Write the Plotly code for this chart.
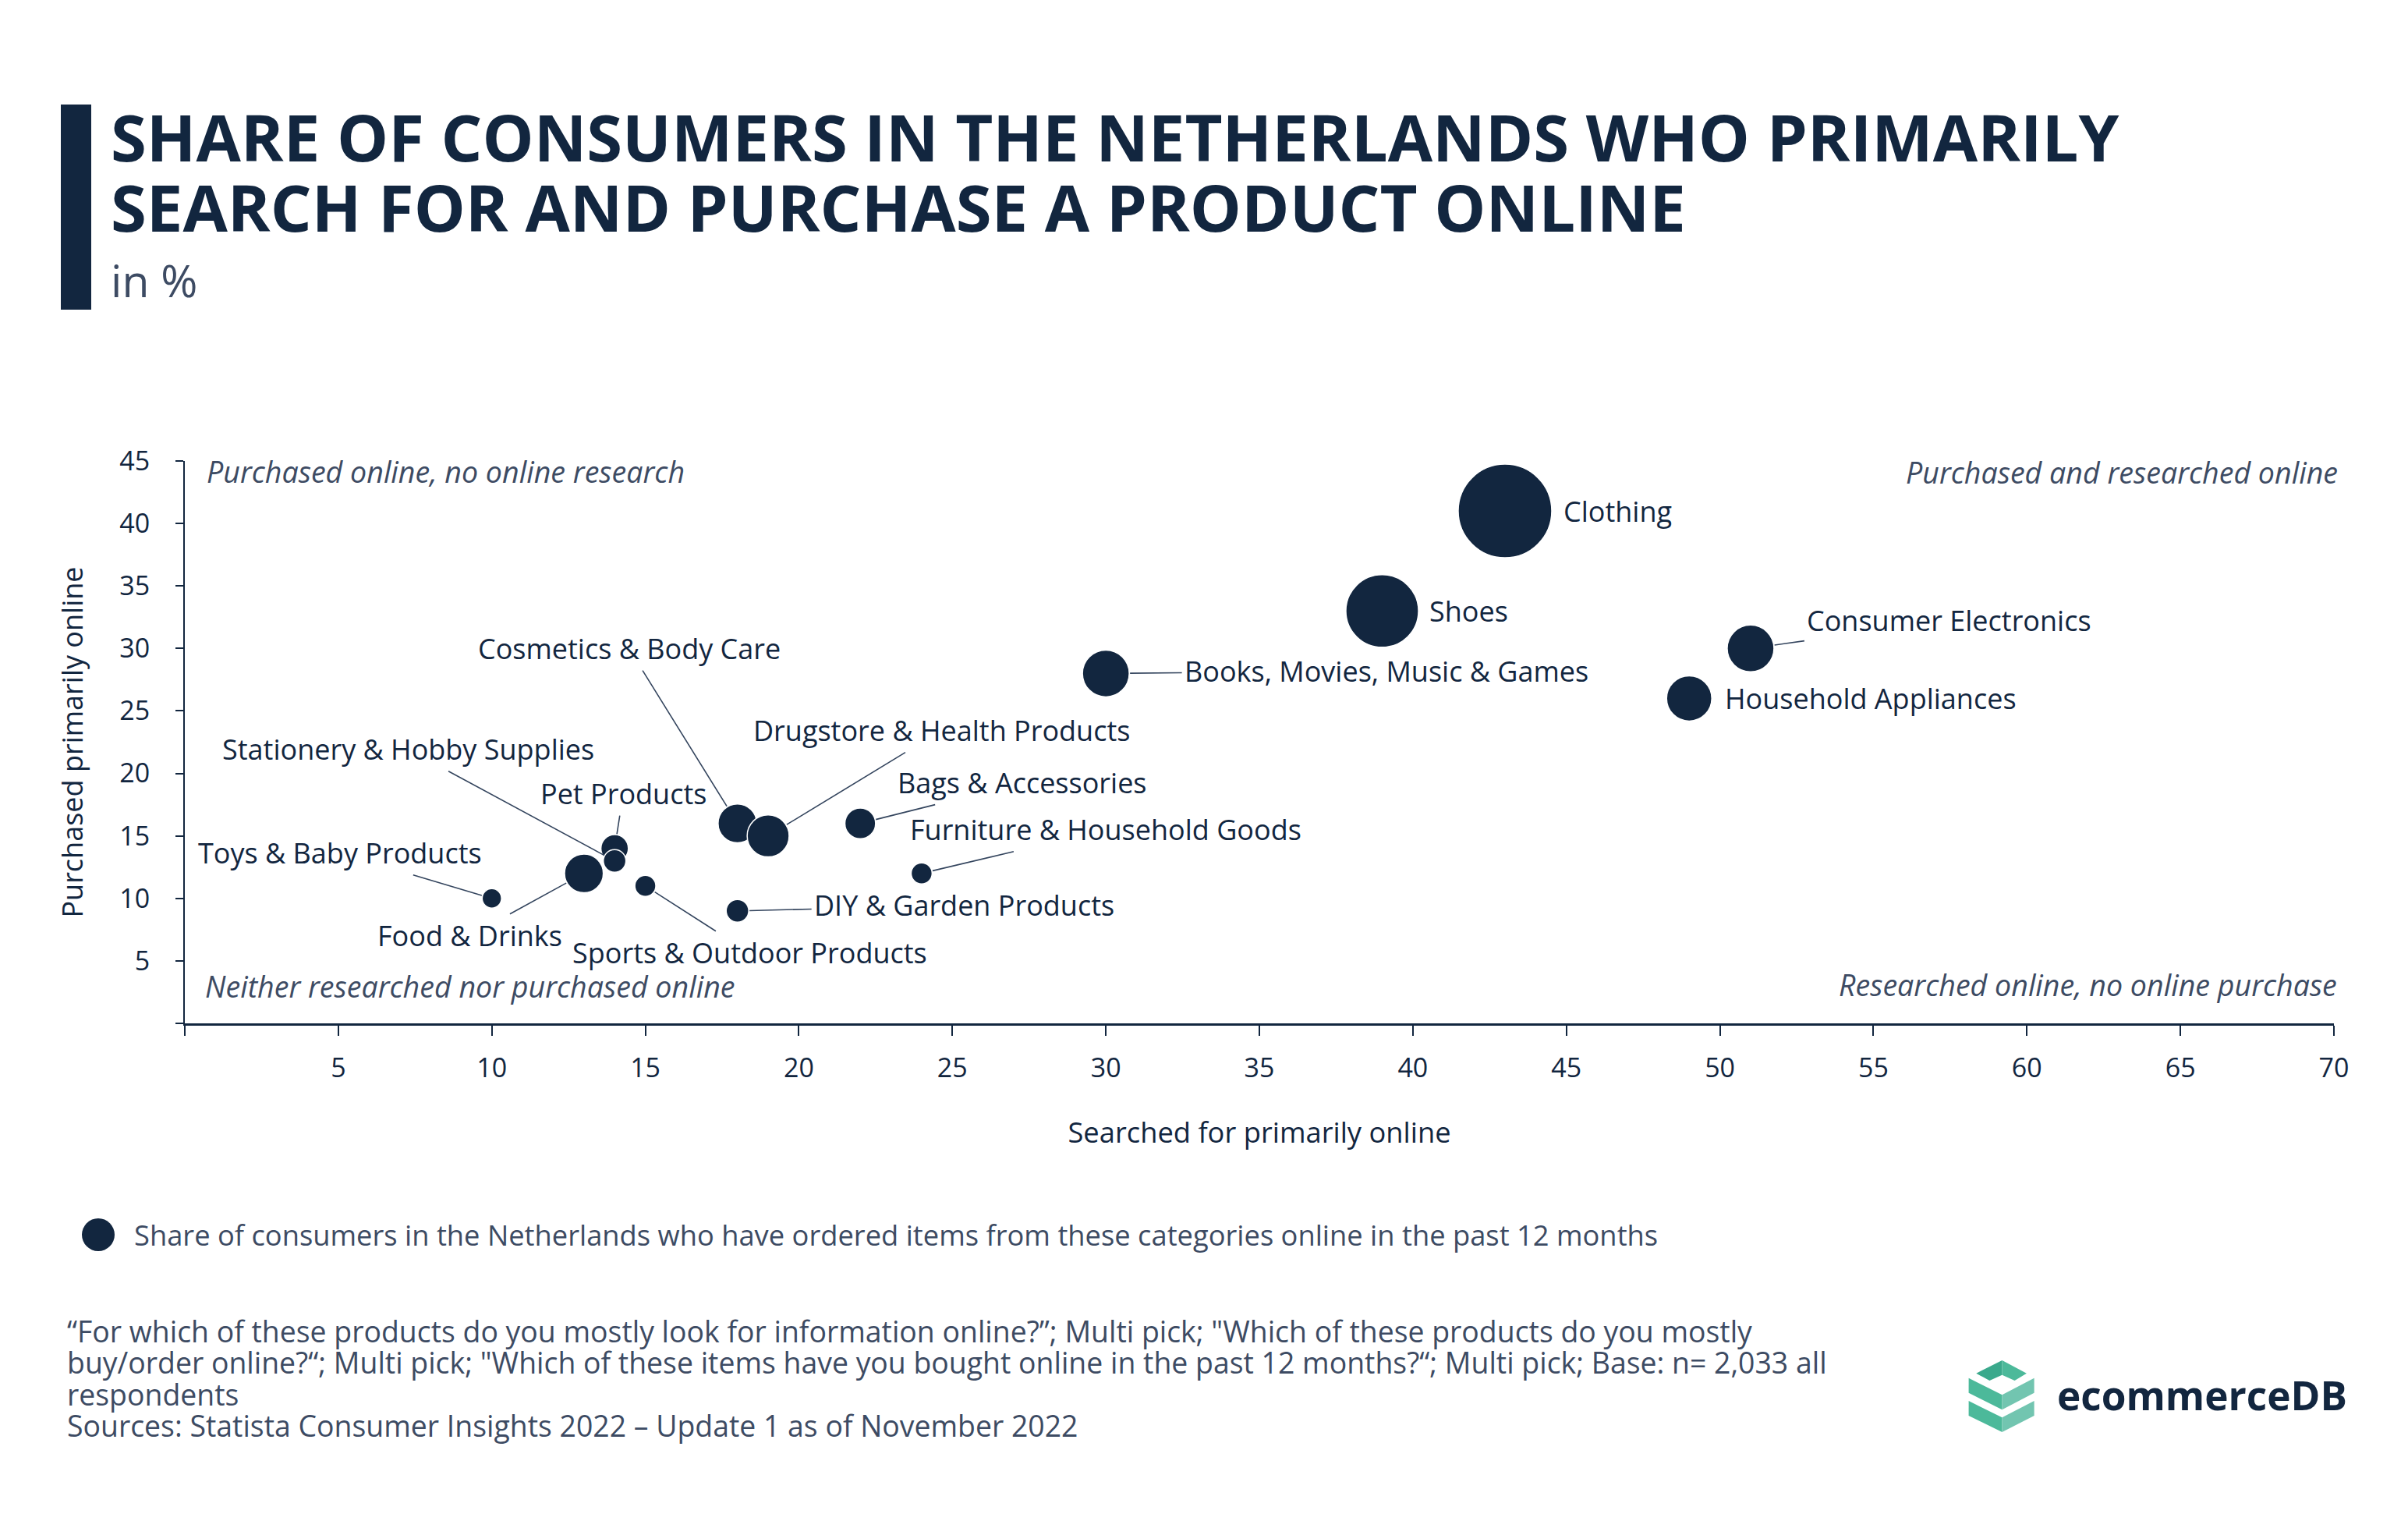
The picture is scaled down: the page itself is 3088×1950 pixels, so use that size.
import plotly.graph_objects as go

# ---------------- data ----------------
categories = [
    "Clothing", "Shoes", "Books, Movies, Music & Games", "Consumer Electronics",
    "Household Appliances", "Cosmetics & Body Care", "Drugstore & Health Products",
    "Bags & Accessories", "Furniture & Household Goods", "DIY & Garden Products",
    "Sports & Outdoor Products", "Food & Drinks", "Pet Products",
    "Stationery & Hobby Supplies", "Toys & Baby Products",
]
searched_online = [43, 39, 30, 51, 49, 18, 19, 22, 24, 18, 15, 13, 14, 14, 10]
purchased_online = [41, 33, 28, 30, 26, 16, 15, 16, 12, 9, 11, 12, 14, 13, 10]
ordered_past_12m = [58, 45, 29, 29, 28, 24, 26, 19, 13, 14, 13, 24, 17, 14, 12]

x_tickvals = [0, 5, 10, 15, 20, 25, 30, 35, 40, 45, 50, 55, 60, 65, 70]
x_ticktext = ["", "5", "10", "15", "20", "25", "30", "35", "40", "45", "50", "55", "60", "65", "70"]
y_tickvals = [0, 5, 10, 15, 20, 25, 30, 35, 40, 45]
y_ticktext = ["", "5", "10", "15", "20", "25", "30", "35", "40", "45"]

# ---------------- layout constants ----------------
W, H = 3088, 1950
ML, MR, MT, MB = 237, 95, 591, 638
PW, PH = W - ML - MR, H - MT - MB
NAVY = "#12263f"
GREY = "#3d4b63"
FONT = "Open Sans"
SIZEREF = 58 / 120.0


def fx(p):
    return (p - ML) / PW


def fy(p):
    return (H - MB - p) / PH


# label placement (pixel offsets from each bubble)
label_side = {  # labels directly right of the bubble
    "Clothing": 73,
    "Shoes": 59,
    "Household Appliances": 44,
}
label_arrow = {  # (ax, ay) offsets of the label centre, with leader line
    "Books, Movies, Music & Games": (360, -3),
    "Consumer Electronics": (255, -36),
    "Drugstore & Health Products": (222, -135),
    "Cosmetics & Body Care": (-139, -224),
    "Bags & Accessories": (208, -52),
    "Furniture & Household Goods": (236, -56),
    "DIY & Garden Products": (291, -7),
    "Sports & Outdoor Products": (134, 86),
    "Food & Drinks": (-146, 80),
    "Pet Products": (11, -70),
    "Stationery & Hobby Supplies": (-265, -143),
    "Toys & Baby Products": (-195, -58),
}

fig = go.Figure()
fig.add_trace(go.Scatter(
    x=searched_online, y=purchased_online, mode="markers",
    text=categories, hoverinfo="text",
    marker=dict(size=ordered_past_12m, sizemode="diameter", sizeref=SIZEREF,
                color=NAVY, opacity=1, line=dict(color="white", width=1.5)),
    showlegend=False,
))

annotations = []
for cat, xv, yv, sv in zip(categories, searched_online, purchased_online, ordered_past_12m):
    r = sv / SIZEREF / 2
    if cat in label_side:
        annotations.append(dict(
            x=xv, y=yv, xref="x", yref="y", text=cat, showarrow=False,
            xanchor="left", yanchor="middle", xshift=label_side[cat],
            font=dict(size=36, color=NAVY, family=FONT)))
    else:
        ax, ay = label_arrow[cat]
        annotations.append(dict(
            x=xv, y=yv, xref="x", yref="y", text=cat, showarrow=True,
            arrowhead=0, arrowwidth=1.6, arrowcolor="#34455e",
            ax=ax, ay=ay, standoff=r + 1, borderpad=3,
            font=dict(size=36, color=NAVY, family=FONT)))

# quadrant labels
quad = [
    ("Purchased online, no online research", 263, 604, "left"),
    ("Purchased and researched online", 3000, 605, "right"),
    ("Neither researched nor purchased online", 261, 1264, "left"),
    ("Researched online, no online purchase", 2999, 1262, "right"),
]
for t, xp, yp, anc in quad:
    annotations.append(dict(
        x=fx(xp), y=fy(yp), xref="paper", yref="paper", text="<i>" + t + "</i>",
        showarrow=False, xanchor=anc, yanchor="middle",
        font=dict(size=37.6, color=GREY, family=FONT)))

# title block
annotations += [
    dict(x=fx(140), y=fy(174), xref="paper", yref="paper", showarrow=False,
         xanchor="left", yanchor="middle",
         text="<b>SHARE OF CONSUMERS IN THE NETHERLANDS WHO PRIMARILY</b>",
         font=dict(size=83.2, color=NAVY, family=FONT)),
    dict(x=fx(140), y=fy(264), xref="paper", yref="paper", showarrow=False,
         xanchor="left", yanchor="middle",
         text="<b>SEARCH FOR AND PURCHASE A PRODUCT ONLINE</b>",
         font=dict(size=83.2, color=NAVY, family=FONT)),
    dict(x=fx(140), y=fy(359), xref="paper", yref="paper", showarrow=False,
         xanchor="left", yanchor="middle", text="in %",
         font=dict(size=57, color=GREY, family=FONT)),
]

# legend text
annotations.append(dict(
    x=fx(170), y=fy(1583), xref="paper", yref="paper", showarrow=False,
    xanchor="left", yanchor="middle",
    text="Share of consumers in the Netherlands who have ordered items from these categories online in the past 12 months",
    font=dict(size=36.3, color=GREY, family=FONT)))

# footer
footer_lines = [
    "\u201cFor which of these products do you mostly look for information online?\u201d; Multi pick; \"Which of these products do you mostly",
    "buy/order online?\u201c; Multi pick; \"Which of these items have you bought online in the past 12 months?\u201c; Multi pick; Base: n= 2,033 all",
    "respondents",
    "Sources: Statista Consumer Insights 2022 \u2013 Update 1 as of November 2022",
]
for i, line in enumerate(footer_lines):
    annotations.append(dict(
        x=fx(84), y=fy(1706 + i * 40.5), xref="paper", yref="paper", showarrow=False,
        xanchor="left", yanchor="middle", text=line,
        font=dict(size=37.4, color=GREY, family=FONT)))

# logo text
annotations.append(dict(
    x=fx(2636), y=fy(1788), xref="paper", yref="paper", showarrow=False,
    xanchor="left", yanchor="middle", text="<b>ecommerceDB</b>",
    font=dict(size=51.3, color=NAVY, family=FONT)))

shapes = []
# left title bar
shapes.append(dict(type="rect", xref="paper", yref="paper",
                   x0=fx(78), x1=fx(117), y0=fy(397), y1=fy(134),
                   fillcolor=NAVY, line=dict(width=0)))
# legend bubble
shapes.append(dict(type="circle", xref="paper", yref="paper",
                   x0=fx(105), x1=fx(147), y0=fy(1604), y1=fy(1562),
                   fillcolor=NAVY, line=dict(width=0)))


def poly(points, color):
    d = "M " + " L ".join("%f,%f" % (fx(a), fy(b)) for a, b in points) + " Z"
    return dict(type="path", xref="paper", yref="paper", path=d,
                fillcolor=color, line=dict(width=0))


logo_polys = [
    ([(2567.5, 1744), (2534.3, 1760.7), (2551.4, 1770), (2567.5, 1762.7)], "#3aa98c"),
    ([(2567.5, 1744), (2598.9, 1760.7), (2583.6, 1770), (2567.5, 1762.7)], "#4cb99a"),
    ([(2524.6, 1766.7), (2567.5, 1788.3), (2567.5, 1807.3), (2524.6, 1785.7)], "#4cb99a"),
    ([(2567.5, 1788.3), (2608.6, 1766.7), (2608.6, 1785.7), (2567.5, 1807.3)], "#72c5b0"),
    ([(2524.6, 1796), (2567.5, 1817.3), (2567.5, 1836), (2524.6, 1815)], "#4cb99a"),
    ([(2567.5, 1817.3), (2608.6, 1796), (2608.6, 1815), (2567.5, 1836)], "#72c5b0"),
]
for pts, c in logo_polys:
    shapes.append(poly(pts, c))

fig.update_layout(
    width=W, height=H, autosize=False,
    margin=dict(l=ML, r=MR, t=MT, b=MB, pad=0),
    paper_bgcolor="white", plot_bgcolor="white",
    font=dict(family=FONT, color=NAVY),
    showlegend=False,
    annotations=annotations, shapes=shapes,
    xaxis=dict(range=[0, 70], tickvals=x_tickvals, ticktext=x_ticktext,
               showgrid=False, zeroline=False, showline=True, linecolor=NAVY,
               linewidth=3, ticks="outside", ticklen=13, tickwidth=1.5,
               tickcolor=NAVY, tickfont=dict(size=34, color=NAVY, family=FONT),
               ticklabelstandoff=12,
               title=dict(text="Searched for primarily online", standoff=50,
                          font=dict(size=36.3, color=NAVY, family=FONT))),
    yaxis=dict(range=[0, 45], tickvals=y_tickvals, ticktext=y_ticktext,
               showgrid=False, zeroline=False, showline=True, linecolor=NAVY,
               linewidth=2, ticks="outside", ticklen=10, tickwidth=1.5,
               tickcolor=NAVY, tickfont=dict(size=34, color=NAVY, family=FONT),
               ticklabelstandoff=26,
               title=dict(text="Purchased primarily online", standoff=36,
                          font=dict(size=36, color=NAVY, family=FONT))),
)

fig.write_html("out.html", config={"displayModeBar": False},
               post_script="document.body.style.margin='0';document.body.style.overflow='hidden';")
